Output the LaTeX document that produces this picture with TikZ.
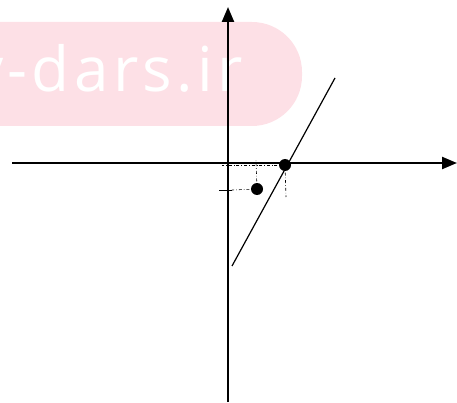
\documentclass[tikz,border=0pt]{standalone}
\usepackage{fontspec}
\newfontfamily\wmfont[LetterSpace=7]{Open Sans}
\usetikzlibrary{arrows.meta}
\definecolor{wmpink}{HTML}{FDE0E6}
\tikzset{
  axis/.style={line width=2.3pt,-{Triangle[length=15pt,width=12pt]}},
  graphline/.style={line width=1.2pt},
  guide/.style={line width=0.6pt,dash dot},
  dotmark/.style={circle,fill=black,inner sep=0pt,minimum size=12pt}
}
\begin{document}
\begin{tikzpicture}[x=1pt,y=1pt]
\useasboundingbox (0,0) rectangle (457,402);
\clip (0,0) rectangle (457,402);
% watermark
\fill[wmpink,rounded corners=50pt] (-60,276) rectangle (302,380);
\node[anchor=base east,text=white,font=\wmfont\fontsize{62}{64}\selectfont,inner sep=0pt] (wm) at (243,310) {y-dars.ir};
% axes
\coordinate (xs) at (12,239);
\coordinate (xe) at (457,239);
\coordinate (ys) at (228,0);
\coordinate (ye) at (228,395);
\draw[axis] (xs) -- (xe);
\draw[axis] (ys) -- (ye);
% line
\coordinate (l1) at (232,136);
\coordinate (l2) at (335,324);
\draw[graphline] (l1) -- (l2);
% guides
\coordinate (ah) at (222,237);
\coordinate (av) at (286,205);
\coordinate (bh) at (232,212);
\coordinate (bt) at (219,212);
\coordinate (bv) at (256,242);
\node[dotmark] (A) at (285,237) {};
\node[dotmark] (B) at (257,213) {};
\draw[guide] (A.center) -- (ah);
\draw[guide] (A.center) -- (av);
\draw[guide] (B.center) -- (bh);
\draw[line width=0.8pt] (bt) -- (bh);
\draw[guide] (B.center) -- (bv);
\end{tikzpicture}
\end{document}
